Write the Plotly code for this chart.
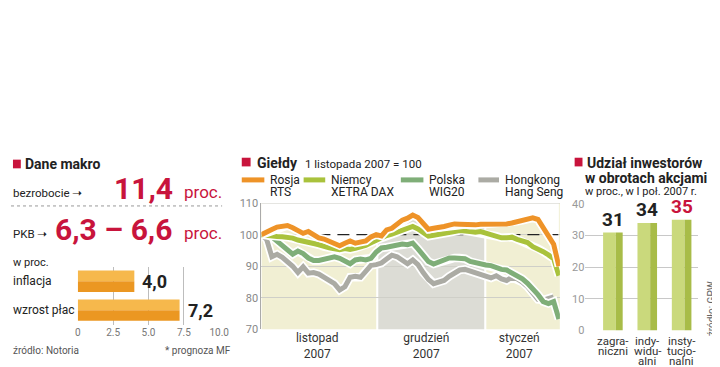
import plotly.graph_objects as go

W, H = 720, 367
def px(x): return x / W
def py(y): return 1 - y / H

RED = "#c8143c"
FONT = "Roboto"

# ---------------- data ----------------
# Dane makro
macro_cats = ["inflacja", "wzrost płac"]
macro_vals = [4.0, 7.2]
macro_ticks = [0, 2.5, 5, 7.5, 10]
macro_ticktext = ["0", "2.5", "5.0", "7.5", "10.0"]

# Giełdy (1 listopada 2007 = 100), trading-day index
rts = [100.0, 100.6, 101.6, 102.4, 102.8, 102.9, 102.2, 101.2, 100.4, 101.0,
       99.9, 99.0, 98.6, 97.9, 97.2, 96.5, 97.3, 98.0, 97.3, 97.5,
       98.0, 99.3, 100.0, 99.6, 101.5, 102.0, 103.2, 104.6, 105.2, 106.2,
       105.4, 103.4, 101.7, 102.0, 102.2, 102.6, 103.0, 103.4, 103.3, 103.2,
       103.0, 103.1, 103.3, 103.3, 103.3, 103.3, 103.3, 103.4, 103.7, 104.2,
       104.5, 105.2, 105.3, 104.8, 102.0, 99.2, 97.0, 90.0]
dax = [100.0, 99.7, 99.4, 99.4, 99.3, 99.2, 98.9, 98.3, 97.8, 97.5,
       97.2, 96.8, 96.2, 95.8, 95.5, 95.2, 95.6, 95.3, 95.7, 96.1,
       96.6, 97.4, 98.3, 99.0, 99.7, 100.2, 100.8, 101.4, 102.0, 102.6,
       101.8, 100.4, 99.5, 99.8, 100.2, 100.6, 100.8, 101.0, 101.3, 101.3,
       101.0, 100.8, 101.0, 100.5, 100.0, 99.5, 99.0, 99.0, 99.2, 98.5,
       97.9, 97.5, 96.2, 95.6, 94.6, 93.6, 92.4, 87.0]
wig20 = [100.0, 100.0, 99.3, 98.0, 96.5, 95.0, 93.8, 94.8, 94.0, 92.6,
         91.8, 91.8, 92.3, 92.8, 93.0, 92.5, 91.5, 90.8, 92.0, 92.3,
         92.0, 92.5, 94.5, 95.8, 96.0, 96.2, 96.6, 97.0, 96.8, 97.3,
         95.5, 93.5, 91.5, 90.7, 91.3, 92.0, 92.6, 92.6, 92.6, 92.4,
         91.5, 91.0, 90.6, 90.4, 90.2, 89.5, 89.0, 88.8, 88.0, 87.0,
         86.0, 84.6, 83.0, 81.0, 78.8, 78.2, 78.8, 73.3]
hsi = [100.0, 98.5, 93.0, 93.8, 92.8, 91.5, 90.0, 88.0, 89.8, 87.8,
       88.0, 87.5, 86.6, 85.8, 84.5, 82.5, 83.5, 86.5, 86.8, 86.5,
       88.5, 90.3, 90.5, 91.0, 92.3, 93.5, 93.0, 91.8, 90.8, 92.0,
       90.5, 88.0, 85.8, 84.5, 85.0, 85.5, 86.8, 87.8, 88.8, 89.0,
       88.5, 88.0, 87.3, 86.8, 86.3, 87.0, 86.0, 85.5, 86.5, 86.0,
       85.0, 83.5, 81.5, 79.5, 79.3, 80.0, 80.3, None]
days = list(range(len(rts)))
month_bounds = [0, 22.2, 42.9, 57.2]
month_labels = ["listopad<br>2007", "grudzień<br>2007", "styczeń<br>2007"]
month_label_pos = [10.7, 31.6, 49.4]
month_colors = ["#f1efd3", "#dcdcd5", "#f1efd3"]
stock_ticks = [70, 80, 90, 100, 110]

# Udział inwestorów
inv_cats = ["zagraniczni", "indywidualni", "instytucjonalni"]
inv_label_lines = [["zagra-", "niczni"], ["indy-", "widu-", "alni"], ["insty-", "tucjo-", "nalni"]]
inv_vals = [31, 34, 35]
inv_ticks = [0, 10, 20, 30, 40]

series = [
    ("Hongkong", "Hang Seng", hsi, "#ababa4"),
    ("Polska", "WIG20", wig20, "#7fae78"),
    ("Niemcy", "XETRA DAX", dax, "#a9c23c"),
    ("Rosja", "RTS", rts, "#ee9328"),
]

fig = go.Figure()

# ---------------- line chart ----------------
fig.add_trace(go.Scatter(x=days, y=[110] * len(days), mode="lines",
                         line=dict(width=0), xaxis="x", yaxis="y",
                         hoverinfo="skip", showlegend=False))
fig.add_trace(go.Scatter(x=days, y=rts, mode="lines", fill="tonexty",
                         fillcolor="white", line=dict(width=0),
                         xaxis="x", yaxis="y", hoverinfo="skip", showlegend=False))
fig.add_trace(go.Scatter(x=[days[0], days[-1]], y=[100, 100], mode="lines",
                         line=dict(color="#222", width=1.3, dash="12px,7px"),
                         xaxis="x", yaxis="y", hoverinfo="skip", showlegend=False))
for name, sub, vals, col in series:
    fig.add_trace(go.Scatter(x=days, y=vals, mode="lines",
                             line=dict(color="white", width=8.5),
                             xaxis="x", yaxis="y", hoverinfo="skip", showlegend=False))
    fig.add_trace(go.Scatter(x=days, y=vals, mode="lines",
                             line=dict(color=col, width=5),
                             xaxis="x", yaxis="y", name=name, showlegend=False))

shapes = []
gap = 0.2
for k in range(3):
    x0 = month_bounds[k] + (gap if k > 0 else 0)
    x1 = month_bounds[k + 1] - (gap if k < 2 else 0)
    shapes.append(dict(type="rect", xref="x", yref="y", x0=x0, x1=x1, y0=70, y1=110,
                       fillcolor=month_colors[k], line=dict(width=0), layer="below"))
shapes.append(dict(type="line", xref="x domain", yref="y", x0=0, x1=1, y0=110, y1=110,
                   line=dict(color="#cfcfc8", width=1), layer="above"))

# ---------------- macro bars ----------------
fig.add_trace(go.Bar(y=macro_cats, x=macro_vals, orientation="h", width=0.37, offset=-0.37,
                     marker=dict(color="#f6b84c", line=dict(width=0)),
                     xaxis="x2", yaxis="y2", showlegend=False))
fig.add_trace(go.Bar(y=macro_cats, x=macro_vals, orientation="h", width=0.37, offset=0,
                     marker=dict(color="#eb9722", line=dict(width=0)),
                     xaxis="x2", yaxis="y2", showlegend=False))

# ---------------- investor bars ----------------
fig.add_trace(go.Bar(x=inv_cats, y=inv_vals, width=0.37, offset=-0.286,
                     marker=dict(color="#cad97c", line=dict(width=0)),
                     xaxis="x3", yaxis="y3", showlegend=False))
fig.add_trace(go.Bar(x=inv_cats, y=inv_vals, width=0.2, offset=0.084,
                     marker=dict(color="#a8bc48", line=dict(width=0)),
                     xaxis="x3", yaxis="y3", showlegend=False))

ann = []
def text(x, y, s, size=12, color="#222", bold=False, xanchor="left", yanchor="middle", **kw):
    if bold:
        s = "<b>" + s + "</b>"
    ann.append(dict(x=px(x), y=py(y), xref="paper", yref="paper", text=s, showarrow=False,
                    xanchor=xanchor, yanchor=yanchor,
                    font=dict(family=FONT, size=size, color=color), **kw))

# --- left panel texts
shapes.append(dict(type="rect", xref="paper", yref="paper", x0=px(2), x1=px(10),
                   y0=py(160), y1=py(151), fillcolor=RED, line=dict(width=0)))
text(12, 155, "Dane makro", 14, "#222", True)
text(0, 186, "bezrobocie ➝", 11.5, "#222")
text(167, 181, "11,4", 30, RED, True, xanchor="right")
text(174, 185, "proc.", 17, RED)
shapes.append(dict(type="line", xref="paper", yref="paper", x0=px(0), x1=px(215),
                   y0=py(199), y1=py(199), line=dict(color="#999", width=1, dash="dot")))
text(0, 228, "PKB ➝", 11.5, "#222")
text(166, 223, "6,3 – 6,6", 30, RED, True, xanchor="right")
text(174, 227, "proc.", 17, RED)
text(0, 258, "w proc.", 11, "#222")
for c in macro_cats:
    ann.append(dict(x=px(0), y=c, xref="paper", yref="y2", text=c, showarrow=False,
                    xanchor="left", yanchor="middle", font=dict(family=FONT, size=12, color="#222")))
for c, v in zip(macro_cats, macro_vals):
    ann.append(dict(x=v, y=c, xref="x2", yref="y2", text="<b>" + f"{v:.1f}".replace(".", ",") + "</b>",
                    showarrow=False, xanchor="left", yanchor="middle", xshift=6,
                    font=dict(family=FONT, size=18, color="#222")))
text(0, 349, "źródło: Notoria", 10, "#555")
text(226, 349, "* prognoza MF", 10, "#555", xanchor="right")

# --- middle panel texts
shapes.append(dict(type="rect", xref="paper", yref="paper", x0=px(235), x1=px(244),
                   y0=py(158), y1=py(149), fillcolor=RED, line=dict(width=0)))
text(248, 154, "Giełdy", 14, "#222", True)
text(297, 155, "1 listopada 2007 = 100", 11.5, "#222")
legend_x = [(235, 258), (298, 320), (397, 420), (476, 497)]
legend_order = [series[3], series[2], series[1], series[0]]
for (x0, x1), (name, sub, vals, col) in zip(legend_x, legend_order):
    shapes.append(dict(type="line", xref="paper", yref="paper", x0=px(x0), x1=px(x1),
                       y0=py(172), y1=py(172), line=dict(color=col, width=5)))
    text(x1 + 4, 172, name, 12, "#222")
    text(x1 + 4, 185, sub, 12, "#222")

# --- right panel texts
shapes.append(dict(type="rect", xref="paper", yref="paper", x0=px(574), x1=px(582),
                   y0=py(158), y1=py(149), fillcolor=RED, line=dict(width=0)))
text(585, 154, "Udział inwestorów", 14, "#222", True)
text(583, 170, "w obrotach akcjami", 14, "#222", True)
text(583, 184, "w proc., w I poł. 2007 r.", 11, "#222")
for c, v in zip(inv_cats, inv_vals):
    col = RED if v == max(inv_vals) else "#222"
    ann.append(dict(x=c, y=v, xref="x3", yref="y3", text=f"<b>{v}</b>", showarrow=False,
                    xanchor="center", yanchor="middle", yshift=13,
                    font=dict(family=FONT, size=19, color=col)))
for c, lines in zip(inv_cats, inv_label_lines):
    for j, ln in enumerate(lines):
        ann.append(dict(x=c, y=py(339 + 10.5 * j), xref="x3", yref="paper", text=ln,
                        showarrow=False, xanchor="center", yanchor="middle",
                        font=dict(family=FONT, size=11.5, color="#333")))
ann.append(dict(x=px(713), y=py(306), xref="paper", yref="paper", text="źródło: GPW",
                showarrow=False, textangle=-90, xanchor="center", yanchor="middle",
                font=dict(family=FONT, size=10, color="#666")))

fig.update_layout(
    width=W, height=H, margin=dict(l=0, r=0, t=0, b=0),
    paper_bgcolor="white", plot_bgcolor="rgba(0,0,0,0)",
    barmode="overlay", showlegend=False,
    font=dict(family=FONT, size=12, color="#222"),
    xaxis=dict(domain=[px(255), px(559)], range=[0, 57.2], showgrid=False, zeroline=False,
               tickvals=month_label_pos, ticktext=month_labels, ticks="",
               tickfont=dict(size=12, color="#333"), fixedrange=True),
    yaxis=dict(domain=[py(327), py(196)], range=[70, 110], tickvals=stock_ticks,
               showgrid=True, gridcolor="#cfcfc8", zeroline=False, showline=True,
               linecolor="#aaaaaa", linewidth=1, ticks="",
               tickfont=dict(size=11, color="#888")),
    xaxis2=dict(domain=[px(68), px(212)], range=[0, 10], tickvals=macro_ticks,
                ticktext=macro_ticktext, showgrid=True, gridcolor="#bdbdbd", zeroline=False,
                ticks="", tickfont=dict(size=10, color="#777"), anchor="y2"),
    yaxis2=dict(domain=[py(322), py(262)], autorange="reversed", showticklabels=False,
                showgrid=False, zeroline=False, anchor="x2"),
    xaxis3=dict(domain=[px(585), px(700)], range=[-0.8, 2.486], type="category",
                showgrid=False, zeroline=False, ticks="", anchor="y3",
                showticklabels=False),
    yaxis3=dict(domain=[py(328), py(197)], range=[0, 40], tickvals=inv_ticks,
                showgrid=True, gridcolor="#c8c8c8", zeroline=False, ticks="",
                tickfont=dict(size=11, color="#999"), anchor="x3"),
    shapes=shapes, annotations=ann,
)

fig.write_html("out.html")
